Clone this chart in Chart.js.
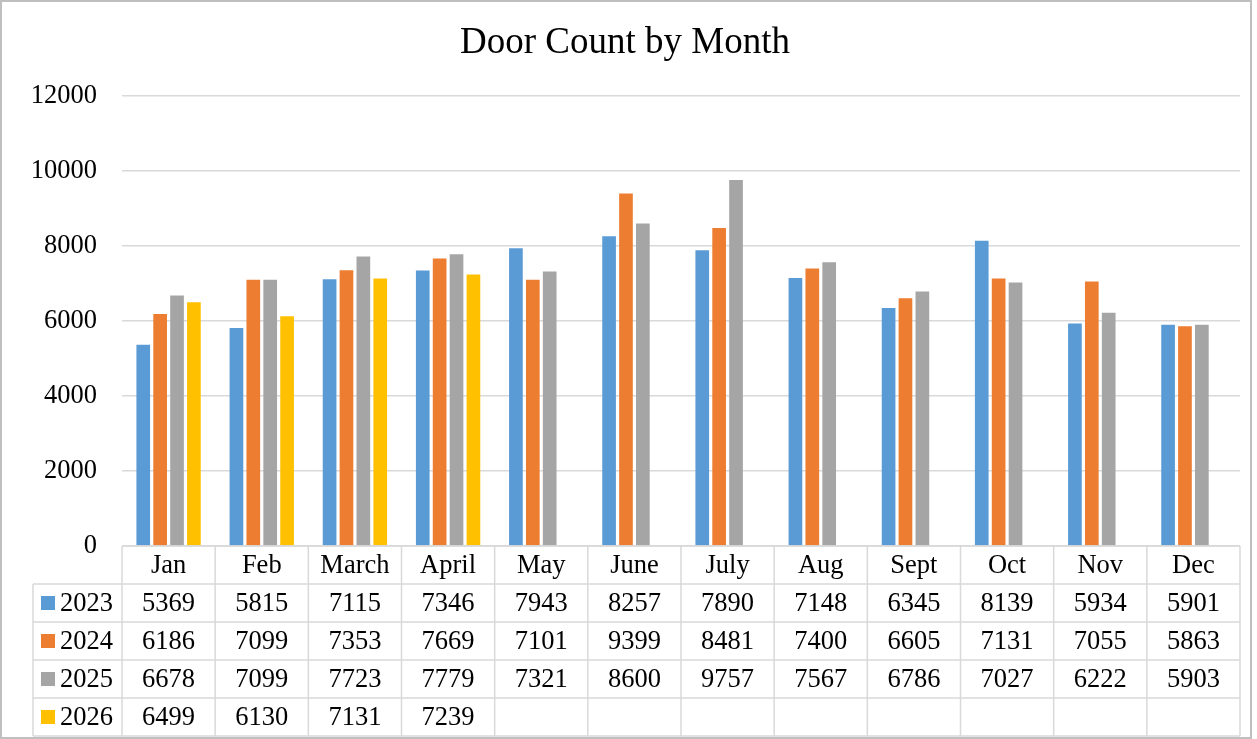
<!DOCTYPE html>
<html>
<head>
<meta charset="utf-8">
<script src="https://cdn.jsdelivr.net/npm/chart.js@4/dist/chart.umd.min.js"></script>
<style>
html,body{margin:0;padding:0;background:#fff;}
#wrap{width:1257px;height:739px;position:relative;}
</style>
</head>
<body>
<div id="wrap"><canvas id="c" width="1257" height="739"></canvas></div>
<script>
const months = ["Jan","Feb","March","April","May","June","July","Aug","Sept","Oct","Nov","Dec"];
const seriesNames = ["2023","2024","2025","2026"];
const v2023 = [5369,5815,7115,7346,7943,8257,7890,7148,6345,8139,5934,5901];
const v2024 = [6186,7099,7353,7669,7101,9399,8481,7400,6605,7131,7055,5863];
const v2025 = [6678,7099,7723,7779,7321,8600,9757,7567,6786,7027,6222,5903];
const v2026 = [6499,6130,7131,7239,null,null,null,null,null,null,null,null];
const colors = ["#5B9BD5","#ED7D31","#A5A5A5","#FFC000"];
const yTicks = [0,2000,4000,6000,8000,10000,12000];

const FONT = "'Liberation Serif','Times New Roman',serif";
const TXT = 26.5;
const allSeries = [v2023,v2024,v2025,v2026];

const tablePlugin = {
  id: 'dataTable',
  afterDraw(chart) {
    const ctx = chart.ctx;
    const xs = chart.scales.x;
    const ca = chart.chartArea;
    const n = months.length;
    const pitch = (ca.right - ca.left) / n;
    const rowH = 38;
    const top = ca.bottom;
    const legLeft = 33;
    ctx.save();
    ctx.strokeStyle = '#d9d9d9';
    ctx.lineWidth = 1.5;
    ctx.beginPath();
    ctx.moveTo(ca.left, top); ctx.lineTo(ca.right, top);
    for (let r = 1; r <= 5; r++) {
      const y = top + r * rowH;
      ctx.moveTo(legLeft, y); ctx.lineTo(ca.right, y);
    }
    for (let i = 0; i <= n; i++) {
      const x = ca.left + i * pitch;
      ctx.moveTo(x, top); ctx.lineTo(x, top + 5 * rowH);
    }
    ctx.moveTo(legLeft, top + rowH); ctx.lineTo(legLeft, top + 5 * rowH);
    ctx.stroke();

    ctx.fillStyle = '#000';
    ctx.font = TXT + 'px ' + FONT;
    ctx.textAlign = 'center';
    ctx.textBaseline = 'middle';
    for (let i = 0; i < n; i++) {
      const cx = xs.getPixelForValue(i);
      ctx.fillText(months[i], cx, top + rowH / 2 + 1);
      for (let s = 0; s < allSeries.length; s++) {
        const v = allSeries[s][i];
        if (v !== null && v !== undefined) {
          ctx.fillText(String(v), cx, top + rowH * (s + 1) + rowH / 2 + 1);
        }
      }
    }
    ctx.textAlign = 'left';
    for (let s = 0; s < seriesNames.length; s++) {
      const cy = top + rowH * (s + 1) + rowH / 2;
      ctx.fillStyle = colors[s];
      ctx.fillRect(41, cy - 7, 14, 14);
      ctx.fillStyle = '#000';
      ctx.fillText(seriesNames[s], 60, cy + 1);
    }
    ctx.strokeStyle = '#bfbfbf';
    ctx.lineWidth = 2;
    ctx.strokeRect(1, 1, 1250, 737);
    ctx.restore();
  }
};

new Chart(document.getElementById('c'), {
  type: 'bar',
  data: {
    labels: months,
    datasets: seriesNames.map((name, k) => ({
      label: name,
      data: allSeries[k],
      backgroundColor: colors[k],
      borderWidth: 0,
      categoryPercentage: 0.725,
      barPercentage: 0.81
    }))
  },
  options: {
    responsive: false,
    animation: false,
    devicePixelRatio: 1,
    layout: { padding: { left: 10, right: 17, top: 0, bottom: 0 } },
    plugins: {
      legend: { display: false },
      tooltip: { enabled: false },
      title: {
        display: true,
        text: 'Door Count by Month',
        color: '#000',
        font: { family: FONT, size: 37, weight: 'normal', lineHeight: 1.2 },
        padding: { top: 21, bottom: 30.6 }
      }
    },
    scales: {
      x: {
        ticks: { display: false },
        grid: { display: false },
        border: { display: false },
        afterFit(scale) { scale.height = 193; }
      },
      y: {
        min: 0,
        max: 12000,
        afterBuildTicks(scale) { scale.ticks = yTicks.map(v => ({ value: v })); },
        ticks: {
          color: '#000',
          padding: 25,
          font: { family: FONT, size: TXT },
          callback: (v) => String(v)
        },
        grid: { color: '#d9d9d9', lineWidth: 1.5, drawTicks: false },
        border: { display: false },
        afterFit(scale) { scale.width = 112; }
      }
    }
  },
  plugins: [tablePlugin]
});
</script>
</body>
</html>
